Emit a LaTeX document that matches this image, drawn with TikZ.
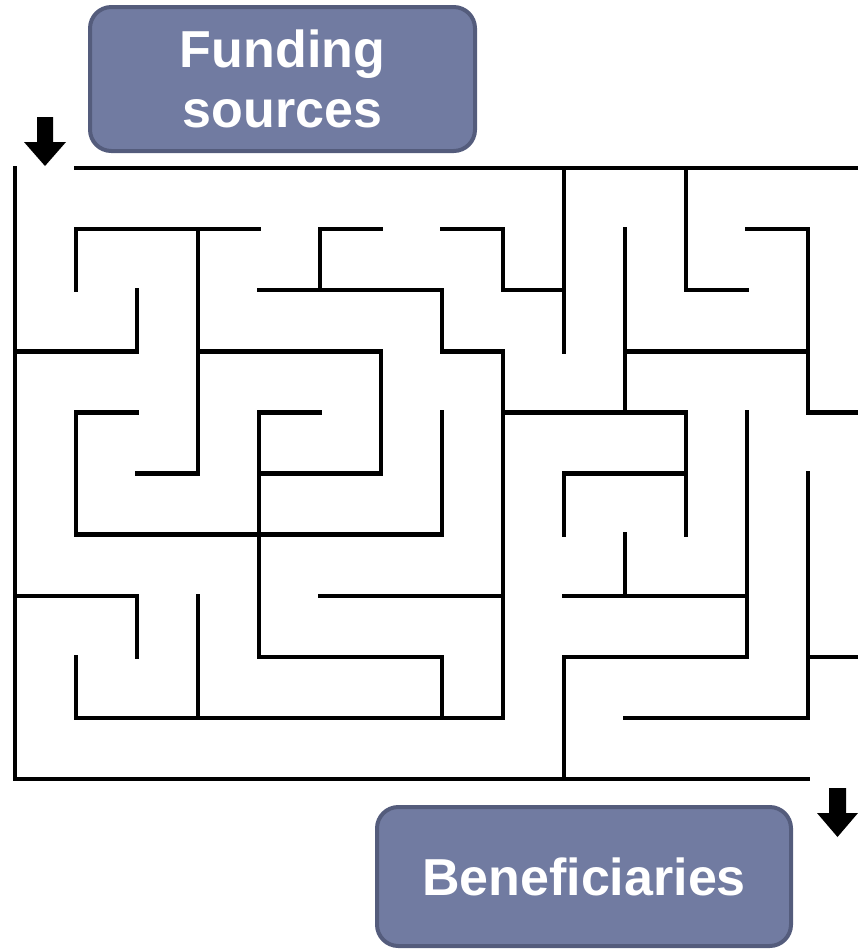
\documentclass[tikz,border=0pt]{standalone}
\usepackage{fontspec}
\setmainfont{Liberation Sans}
\definecolor{boxfill}{RGB}{113,123,161}
\definecolor{boxline}{RGB}{84,92,124}
\tikzset{
  wall/.style={line width=3.3pt, line cap=rect, line join=miter, draw=black},
  labelbox/.style={draw=boxline, line width=3pt, fill=boxfill, rounded corners=16pt,
    text=white, font=\fontsize{39}{45}\selectfont\bfseries, align=center, inner sep=0pt},
  marker/.style={fill=black, draw=none}
}
\begin{document}
\begin{tikzpicture}[x=0.75pt,y=-0.75pt]
\useasboundingbox (0,0) rectangle (858,951);

% labels
\node[labelbox, minimum width=288.75pt, minimum height=108pt] (funding) at (282.5,79) {Funding\\sources};
\node[labelbox, minimum width=310.5pt, minimum height=104.25pt] (benef) at (584,876.5) {\raisebox{-2pt}{Beneficiaries}};

% entry / exit arrows
\fill[marker] (37,117) -- (53,117) -- (53,142) -- (66,142) -- (45,166) -- (24,142) -- (37,142) -- cycle;
\fill[marker] (829,788) -- (846,788) -- (846,813) -- (858,813) -- (837.5,837) -- (817,813) -- (829,813) -- cycle;

% maze
\begin{scope}[shift={(15,168)}, x=45.75pt, y=-45.825pt]
  % outer walls
  \draw[wall] (1,0) -- (13.82,0);
  \draw[wall] (0,0) -- (0,10) -- (13,10);
  % inner walls
  \draw[wall] (1,2) -- (1,1) -- (4,1);
  \draw[wall] (3,1) -- (3,5) -- (2,5);
  \draw[wall] (0,3) -- (2,3) -- (2,2);
  \draw[wall] (5,2) -- (5,1) -- (6,1);
  \draw[wall] (4,2) -- (7,2) -- (7,3) -- (8,3) -- (8,9);
  \draw[wall] (3,3) -- (6,3) -- (6,5) -- (4,5);
  \draw[wall] (2,4) -- (1,4) -- (1,6) -- (7,6) -- (7,4);
  \draw[wall] (5,4) -- (4,4) -- (4,8) -- (7,8) -- (7,9);
  \draw[wall] (0,7) -- (2,7) -- (2,8);
  \draw[wall] (3,7) -- (3,9);
  \draw[wall] (1,8) -- (1,9) -- (8,9);
  \draw[wall] (5,7) -- (8,7);
  \draw[wall] (7,1) -- (8,1) -- (8,2) -- (9,2);
  \draw[wall] (9,0) -- (9,3);
  \draw[wall] (11,0) -- (11,2) -- (12,2);
  \draw[wall] (12,1) -- (13,1) -- (13,4) -- (13.82,4);
  \draw[wall] (10,1) -- (10,4);
  \draw[wall] (10,3) -- (13,3);
  \draw[wall] (8,4) -- (11,4) -- (11,6);
  \draw[wall] (9,6) -- (9,5) -- (11,5);
  \draw[wall] (12,4) -- (12,8) -- (9,8) -- (9,10);
  \draw[wall] (10,6) -- (10,7);
  \draw[wall] (9,7) -- (12,7);
  \draw[wall] (13,5) -- (13,9) -- (10,9);
  \draw[wall] (13,8) -- (13.82,8);
\end{scope}
\end{tikzpicture}
\end{document}
